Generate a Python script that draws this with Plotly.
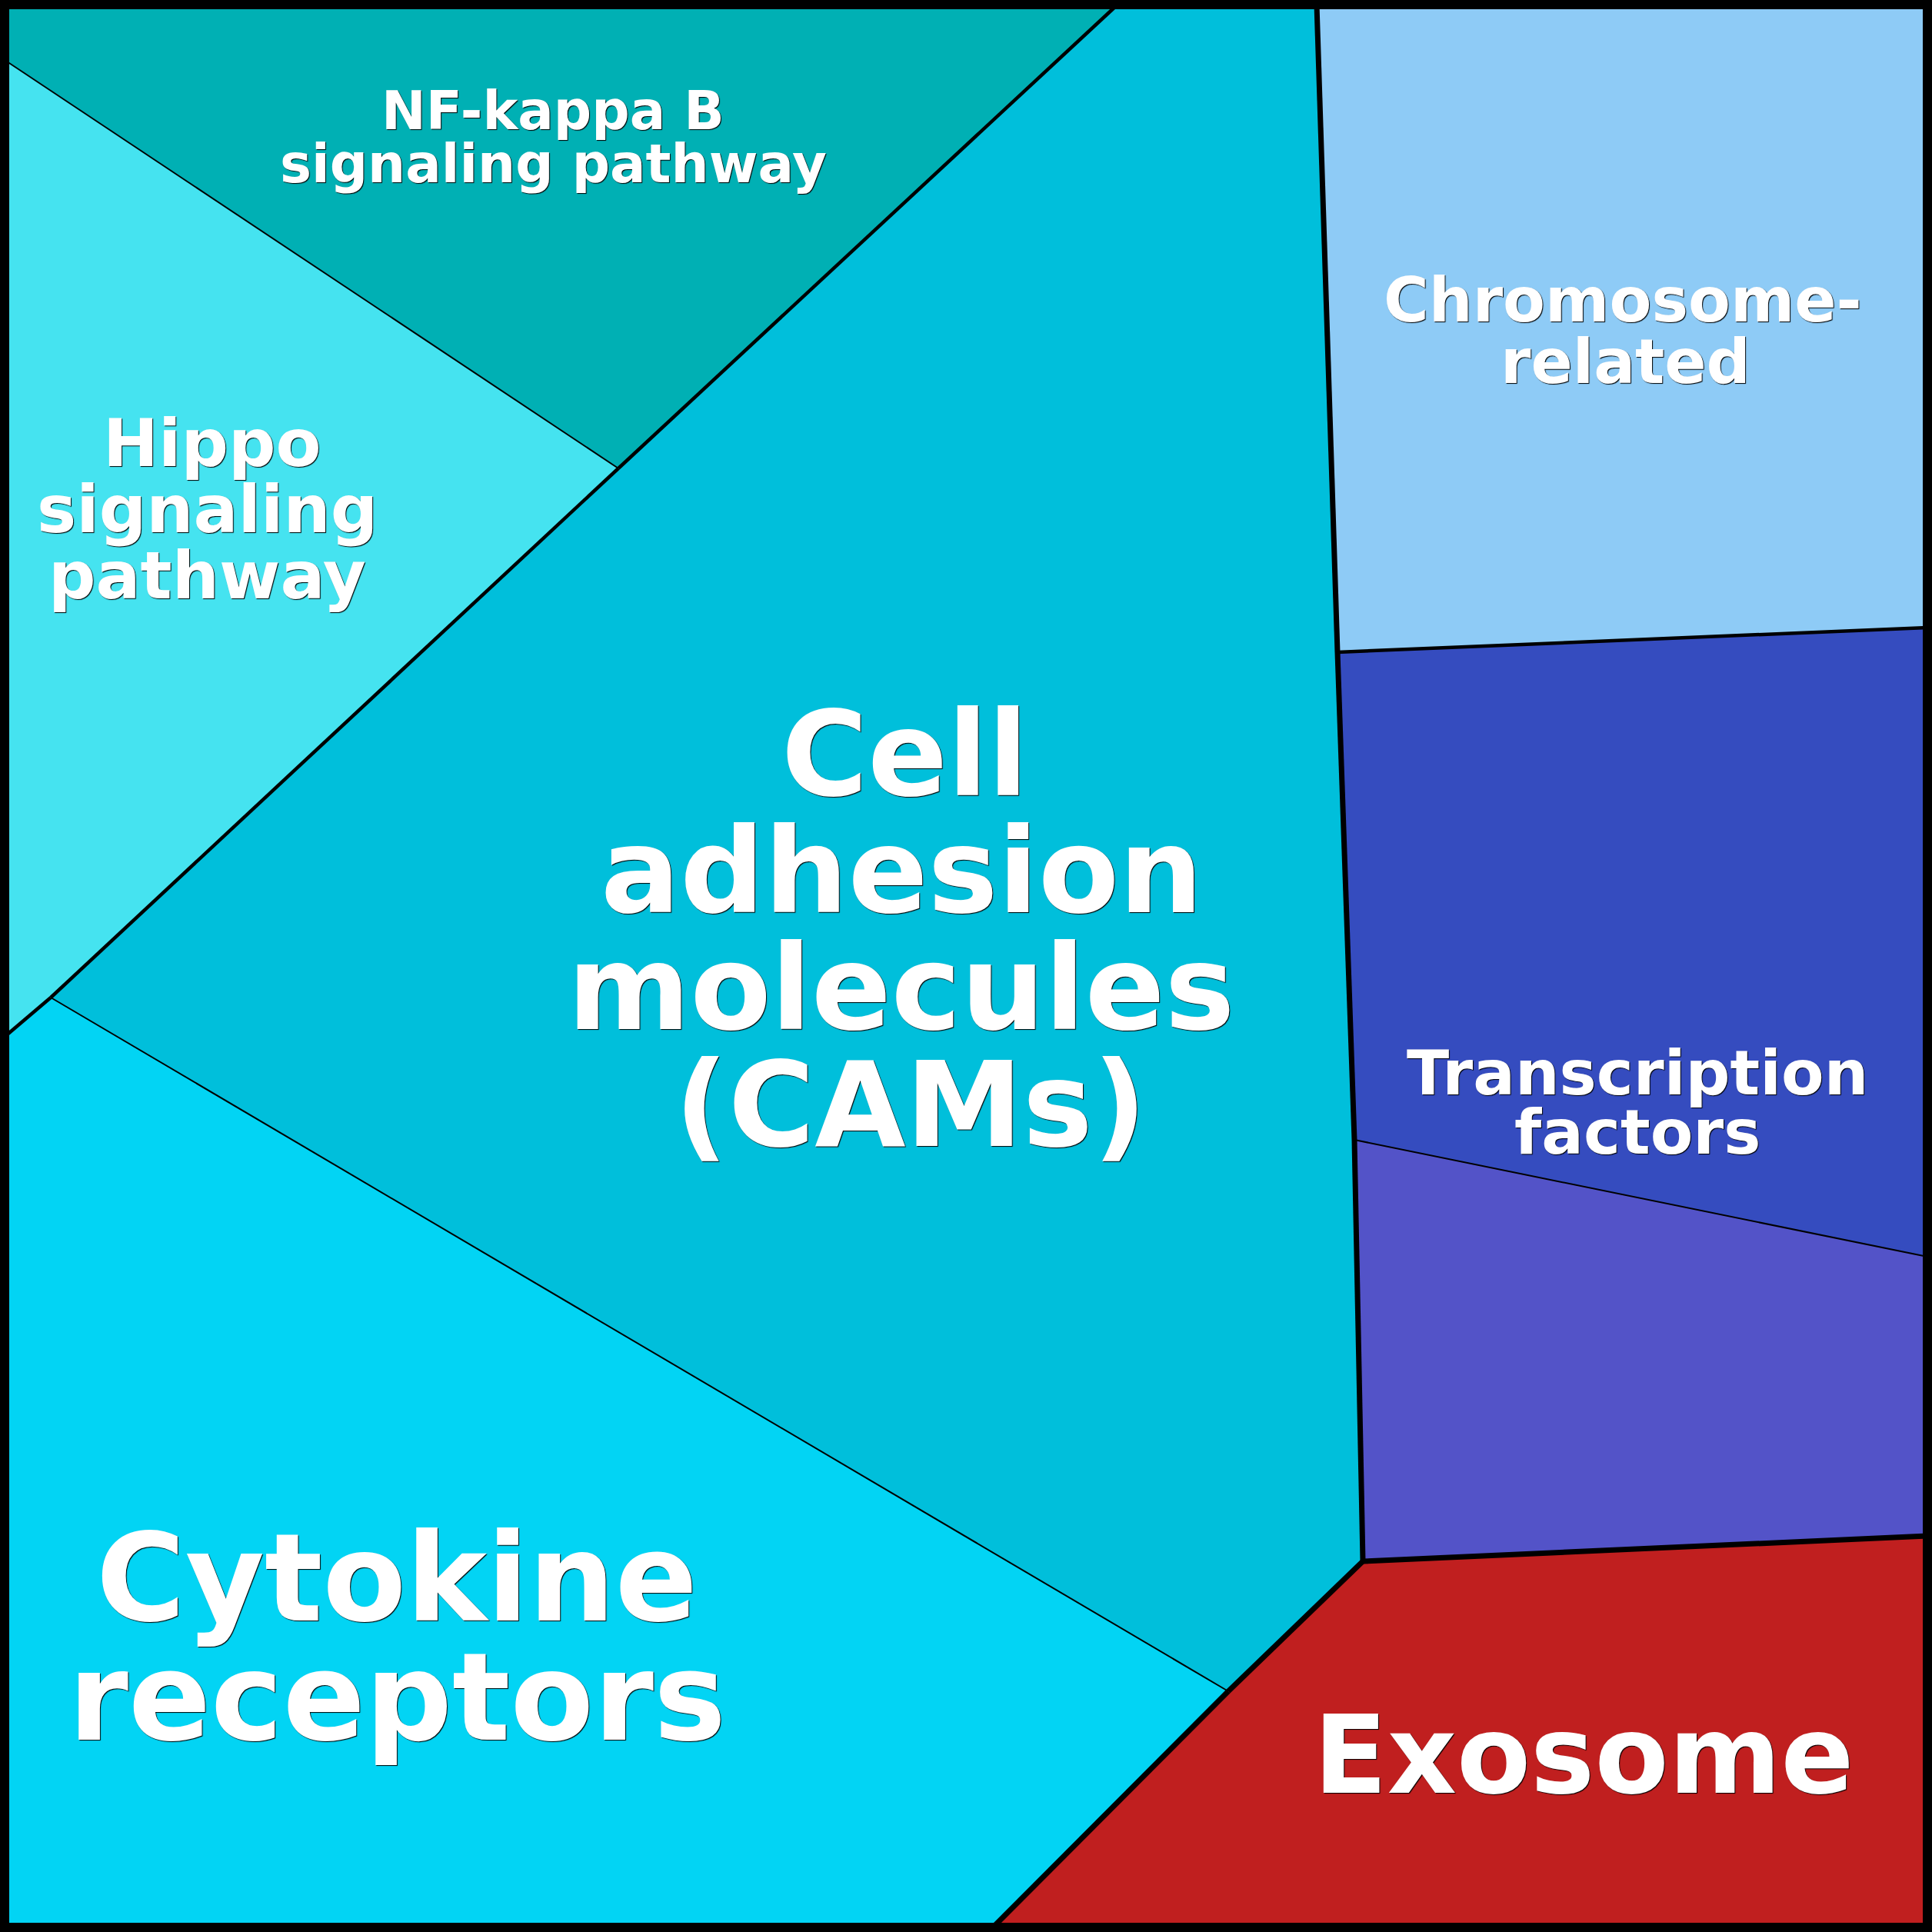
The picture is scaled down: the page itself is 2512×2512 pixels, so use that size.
import plotly.graph_objects as go

# ---- Voronoi treemap cells (vertex coordinates of each cell, in canvas units) ----
cell_names = ["NF-kappa B signaling pathway", "Hippo signaling pathway",
              "Cell adhesion molecules (CAMs)", "Cytokine receptors",
              "Chromosome-related", "Transcription factors", "(unlabelled)", "Exosome"]

nf_x = [6, 1453, 804, 6]
nf_y = [6, 6, 609, 78]
hippo_x = [6, 804, 66, 6]
hippo_y = [78, 609, 1297, 1348]
cams_x = [1453, 1712, 1739, 1761, 1772, 1597, 66, 804]
cams_y = [6, 6, 848, 1482, 2030, 2199, 1297, 609]
cyto_x = [6, 66, 1597, 1291, 6]
cyto_y = [1348, 1297, 2199, 2506, 2506]
chrom_x = [1712, 2506, 2506, 1739]
chrom_y = [6, 6, 816, 848]
tf_x = [1739, 2506, 2506, 1761]
tf_y = [848, 816, 1634, 1482]
unl_x = [1761, 2506, 2506, 1772]
unl_y = [1482, 1634, 1997, 2030]
exo_x = [1772, 2506, 2506, 1291, 1597]
exo_y = [2030, 1997, 2506, 2506, 2199]

cell_xs = [nf_x, hippo_x, cams_x, cyto_x, chrom_x, tf_x, unl_x, exo_x]
cell_ys = [nf_y, hippo_y, cams_y, cyto_y, chrom_y, tf_y, unl_y, exo_y]

# hierarchy: top-level group, second-level group
level1 = ["A", "A", "A", "A", "B", "B", "B", "C"]
level2 = ["A1", "A1", "A2", "A2", "B1", "B2", "B2", "C1"]

cell_colors = ["#00B0B4", "#45E3F0", "#00BFDB", "#02D4F4",
               "#8ECBF6", "#354CBF", "#5353C8", "#C01F1F"]

# labels (lines, font size, centre x, first baseline, line step, per-line x nudge)
label_lines = [["NF-kappa B", "signaling pathway"], ["Hippo", "signaling", "pathway"],
               ["Cell", "adhesion", "molecules", "(CAMs)"], ["Cytokine", "receptors"],
               ["Chromosome-", "related"], ["Transcription", "factors"], [], ["Exosome"]]
label_size = [69, 86, 153, 158, 80, 81, 0, 140]
label_cx = [719, 269, 1172, 516, 2110, 2129, 0, 2059]
label_base = [168, 606, 1034, 2107, 418, 1423, 0, 2331]
label_step = [69, 86, 152, 155, 80, 77, 0, 0]
label_dx = [[0, 0], [7, 0, 0], [4, 0, 0, 12], [0, 0], [0, 3], [0, 0], [], [0]]

W = 2512

fig = go.Figure()

for xs, ys, col, name in zip(cell_xs, cell_ys, cell_colors, cell_names):
    fig.add_trace(go.Scatter(x=xs + [xs[0]], y=ys + [ys[0]], mode="lines", fill="toself",
                             fillcolor=col, line=dict(width=0, color=col), name=name,
                             hoverinfo="name", showlegend=False))

# shared edges between cells, width by hierarchy level
edges = {}
for i, (xs, ys) in enumerate(zip(cell_xs, cell_ys)):
    n = len(xs)
    for k in range(n):
        a = (xs[k], ys[k])
        b = (xs[(k + 1) % n], ys[(k + 1) % n])
        key = frozenset([a, b])
        edges.setdefault(key, []).append(i)

for key, owners in edges.items():
    if len(owners) < 2:
        continue
    i, j = owners[0], owners[1]
    if level1[i] != level1[j]:
        w = 7
    elif level2[i] != level2[j]:
        w = 4.5
    else:
        w = 2
    (x0, y0), (x1, y1) = list(key)
    fig.add_trace(go.Scatter(x=[x0, x1], y=[y0, y1], mode="lines",
                             line=dict(color="black", width=w), hoverinfo="skip",
                             showlegend=False))

# outer border
fig.add_shape(type="rect", x0=6, y0=6, x1=W - 6, y1=W - 6,
              line=dict(color="black", width=12), layer="above")

ann = []
for lines, fs, cx, b0, step, dxs in zip(label_lines, label_size, label_cx, label_base,
                                        label_step, label_dx):
    for k, t in enumerate(lines):
        base = b0 + k * step
        ann.append(dict(x=cx + dxs[k], y=base - 0.346 * fs, text=t, showarrow=False,
                        xanchor="center", yanchor="middle",
                        font=dict(family="DejaVu Sans", size=fs, color="white",
                                  weight="bold", shadow="1px 1px 1px #000")))

fig.update_layout(width=W, height=W, margin=dict(l=0, r=0, t=0, b=0),
                  paper_bgcolor="white", plot_bgcolor="white",
                  xaxis=dict(range=[0, W], visible=False, fixedrange=True),
                  yaxis=dict(range=[W, 0], visible=False, fixedrange=True),
                  annotations=ann, showlegend=False)

fig.write_html("out.html", config={"displayModeBar": False},
               post_script="document.body.style.margin='0';")
